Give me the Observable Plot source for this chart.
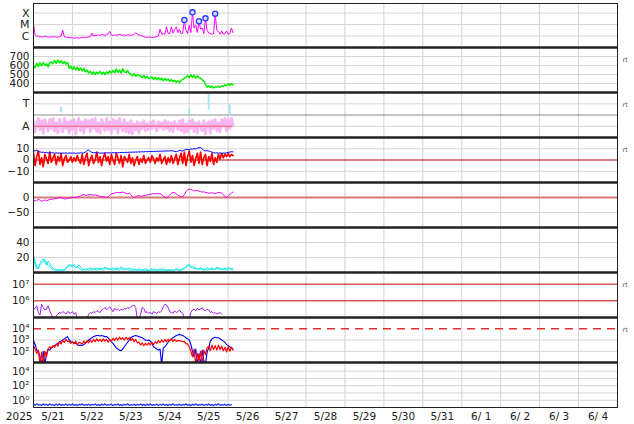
<!DOCTYPE html>
<html><head><meta charset="utf-8">
<script src="https://cdn.jsdelivr.net/npm/d3@7"></script>
<script src="https://cdn.jsdelivr.net/npm/@observablehq/plot@0.6"></script>
<style>
html,body{margin:0;padding:0;background:#fff;width:634px;height:424px;overflow:hidden;font-family:"DejaVu Sans",sans-serif;}
#chart{position:relative;width:634px;height:424px;}
#chart svg{position:absolute;left:0;overflow:visible;}
</style></head><body><div id="chart"></div>
<script>
// ---------- axis labels ----------
const dayLabels = ["5/21","5/22","5/23","5/24","5/25","5/26","5/27","5/28","5/29","5/30","5/31","6/ 1","6/ 2","6/ 3","6/ 4"];
const yearLabel = ["2025"];
const seriesStart = "2025-05-21T00:00:00Z"; // hourly samples from here

// Panel 1: X-ray flux (log10 W/m2)
const xrayTicks = [1e-6, 1e-5, 1e-4];
const xrayTickLabels = ["C", "M", "X"];
const xrayLog = [
 -5.0,-5.9,-6.05,-6.0,-6.1,-6.05,-6.1,-6.0,-6.05,-6.1,-6.1,-6.05,
 -6.1,-6.05,-6.1,-6.1,-6.05,-6.0,-5.5,-6.05,-6.1,-6.1,-6.15,-6.15,
 -6.15,-6.2,-6.15,-6.15,-6.2,-6.15,-6.15,-6.1,-6.15,-6.1,-6.1,-6.05,
 -5.75,-6.0,-5.95,-5.95,-5.9,-5.95,-5.85,-5.9,-5.95,-5.9,-5.8,-5.6,
 -5.9,-5.95,-5.9,-5.95,-5.9,-5.85,-5.9,-5.95,-5.9,-5.95,-5.9,-5.9,
 -5.95,-5.9,-5.85,-5.7,-5.85,-5.9,-5.95,-6.0,-6.05,-6.1,-6.1,-6.1,
 -6.1,-6.15,-6.1,-6.1,-6.05,-6.0,-5.4,-5.85,-5.8,-5.85,-5.2,-5.8,
 -5.8,-5.2,-5.75,-5.45,-5.2,-5.7,-5.4,-5.8,-5.75,-4.61,-5.5,-5.8,
 -5.05,-5.7,-3.94,-5.3,-5.05,-5.7,-4.72,-5.4,-5.3,-5.8,-4.46,-5.5,
 -5.75,-5.8,-5.85,-5.8,-4.05,-5.5,-5.6,-5.85,-5.55,-5.85,-5.8,-5.55,
 -5.85,-5.8,-5.3,-5.7];
const flareHours = [93, 98, 102, 106, 112];
const flareLog = [-4.61, -3.94, -4.72, -4.46, -4.05];

// Panel 2: solar wind speed (km/s)
const windTicks = [400, 500, 600, 700];
const windSpeed = [
 600,575,625,590,630,595,635,600,620,585,630,640,
 620,655,625,660,630,655,620,645,615,635,570,590,
 555,585,550,580,545,575,540,565,530,550,515,535,
 505,530,500,525,510,535,505,525,500,530,510,540,
 515,545,520,560,525,550,515,565,530,520,545,510,
 505,485,510,480,500,490,485,465,490,460,480,455,
 460,475,445,470,440,465,440,460,430,455,435,450,
 425,445,420,435,415,430,410,435,445,460,470,490,
 465,495,470,490,460,485,465,460,440,425,390,360,
 375,355,370,350,365,360,370,358,372,368,385,378,
 395,380,398,385];

// Panel 3: T / A class band
const classTicks = [0, 1];
const classLabels = ["A", "T"];
const classBand = [
 0.2,-0.25,0.1,0.35,-0.15,0.25,-0.3,0.3,0.05,-0.2,0.3,-0.1,
 0.35,-0.2,0.15,-0.3,0.3,0.0,-0.25,0.35,-0.1,0.2,-0.3,0.25,
 -0.15,0.3,-0.35,0.1,0.35,-0.2,0.2,-0.3,0.3,-0.05,0.25,-0.25,
 0.3,-0.1,0.35,-0.25,0.15,-0.3,0.3,0.05,-0.2,0.35,-0.15,0.2,
 -0.3,0.3,-0.1,0.25,-0.3,0.35,0.0,-0.2,0.3,-0.25,0.15,-0.3,
 0.25,-0.35,0.1,-0.15,0.2,-0.3,0.15,-0.1,0.25,-0.2,0.1,-0.15,
 0.2,-0.1,0.25,0.0,-0.2,0.2,-0.05,0.15,-0.15,0.25,-0.1,0.2,
 -0.2,0.15,-0.25,0.2,0.05,-0.15,0.25,-0.2,0.3,-0.3,0.1,-0.25,
 0.25,-0.1,0.3,-0.25,0.15,-0.3,0.2,0.0,-0.2,0.25,-0.35,0.1,
 0.2,-0.3,0.25,-0.1,0.3,-0.2,0.15,-0.25,0.3,0.0,0.35,-0.2,
 0.3,-0.1,0.35,0.05];
const cyanSpikeHours = [17, 96, 108, 121];
const cyanSpikeLo = [0.6, 0.5, 0.7, 0.45];
const cyanSpikeHi = [0.85, 0.75, 1.45, 0.95];

// Panel 4: IMF Bt (blue) and Bz (red), nT
const imfTicks = [-10, 0, 10];
const imfTickLabels = ["−10", "0", "10"];
const bt = [
 8.5,8,8.8,7.5,7.2,6.8,7,6.5,6.8,6.2,6.5,6.3,
 6.5,6,6.4,6.1,6.3,5.8,6.2,6,6.4,5.9,6.3,6.1,
 6,6.4,5.8,6.2,6,6.5,6.1,6.3,7,8.5,9,7.5,
 6.8,6.4,6.6,6.2,6.4,6,6.3,6.1,6.2,6.5,6.3,6.4,
 6.2,6.5,6.4,6.6,6.3,6.7,6.5,6.8,6.6,6.9,6.7,7,
 6.8,7.1,6.9,7.2,7,7.3,7.1,7.4,7.2,7.5,7.3,7.6,
 7.4,7.7,7.5,7.8,7.6,7.9,7.7,8,7.8,8.1,7.9,8.2,
 8,8.3,8.1,7.6,7.4,7.8,8.5,8.2,7.9,8.8,9.2,9.5,
 9,9.8,9.5,10.2,9.8,10.5,10.8,11,10,8.5,8,8.3,
 8,7.5,7,6.5,6.2,6.5,6,6.3,5.8,6.2,6,6.5,
 6.8,7,7.4,7.2];
const bz = [
 6,-5,3,8,-4,2,-6,5,1,-3,7,-2,
 2,5,-4,3,-1,6,-5,1,4,-2,0,3,
 -2,2,-1,4,0,-3,5,-4,2,6,-5,1,
 4,-3,0,7,-2,3,-5,2,6,-1,3,-4,
 5,0,-4,6,2,-3,4,-6,3,1,-2,5,
 -3,2,-5,0,3,-4,1,-2,4,-3,0,2,
 -2,4,1,-3,2,-1,5,-3,0,3,-4,2,
 -2,4,-3,1,5,-4,2,6,-3,7,-5,3,
 8,-2,4,-5,1,6,-3,7,-4,2,5,-5,
 3,-1,6,-4,2,-2,5,1,6,2,5,3,
 6,3,5,4];

// Panel 5: Dst (nT)
const dstTicks = [-50, 0];
const dstTickLabels = ["−50", "0"];
const dst = [
 -8,-12,-10,-6,-9,-13,-10,-8,-11,-9,-7,-6,
 -5,-4,-3,-2,-1,0,-2,-4,-5,-3,-2,-1,
 0,1,0,2,3,5,8,10,7,8,9,10,
 9,8,9,7,6,4,3,3,2,0,2,8,
 12,14,15,16,17,16,17,18,16,14,12,15,
 10,2,0,3,5,6,5,4,6,7,8,10,
 11,12,13,12,13,14,12,10,5,0,-1,3,
 8,14,17,16,12,8,5,3,2,10,20,25,
 28,27,25,22,23,24,21,20,18,19,17,16,
 14,15,16,14,12,15,17,16,15,10,2,0,
 5,10,15,18];

// Panel 6: two cyan series
const p6Ticks = [20, 40];
const cyanA = [
 22,15,8,5,12,16,18,14,10,15,12,8,
 6,5,4,3,4,3,4,3,5,7,9,8,
 10,9,6,8,10,7,5,4,5,4,5,6,
 5,4,5,6,5,4,5,6,7,5,6,4,
 5,6,5,4,6,5,7,6,5,4,5,6,
 5,4,5,3,4,5,4,3,4,5,4,3,
 4,5,4,5,3,4,5,4,5,4,3,4,
 3,4,3,4,5,4,3,4,5,6,8,10,
 9,7,6,5,6,4,5,6,5,4,5,6,
 5,4,6,5,4,6,5,6,5,4,6,5,
 6,5,4,5];
const cyanB = [
 18,10,5,8,10,12,15,17,13,9,8,6,
 4,3,2,3,2,3,2,4,6,9,11,10,
 8,11,9,7,6,4,3,4,3,5,3,4,
 3,5,4,3,4,6,4,3,5,6,4,5,
 4,3,4,6,4,3,5,4,3,5,4,3,
 3,2,3,4,2,3,2,4,3,2,3,2,
 2,3,2,3,2,3,2,3,2,3,2,3,
 2,3,2,3,4,3,2,3,4,5,7,8,
 11,9,8,7,5,6,4,5,4,3,4,3,
 4,5,4,3,5,7,6,4,3,5,4,3,
 4,6,5,3];

// Panel 7: electron flux (log10)
const p7Ticks = [1e6, 1e7];
const p7TickLabels = ["10⁶", "10⁷"];
const electronLog = [
 5.5,5.55,5.7,5.3,5.15,5.8,5.6,5.45,5.5,5.7,5.4,5.2,
 4.9,4.9,5.1,5.2,5.3,5.25,5.35,5.3,5.2,5.35,5.3,5.25,
 5.35,5.2,5.3,4.9,4.9,4.9,4.9,4.9,4.9,4.9,5.2,5.3,
 5.25,5.35,5.3,5.4,5.35,5.3,5.45,5.5,5.6,5.45,5.55,5.65,
 5.5,5.35,5.55,5.45,5.5,5.4,5.5,5.45,5.55,5.5,5.6,5.55,
 5.65,5.7,5.75,5.6,4.9,4.9,5.2,5.6,5.55,5.3,5.35,5.25,
 5.3,5.2,5.35,5.3,5.25,5.35,5.3,5.4,5.65,5.8,5.75,5.6,
 5.35,5.3,5.25,5.4,5.3,5.35,5.45,5.3,5.25,4.9,4.9,4.9,
 4.9,5.3,5.45,5.5,5.4,5.55,5.45,5.5,5.6,5.45,5.4,5.5,
 5.45,5.3,5.35,5.25,5.3,5.2,5.25,5.3,5.2,null,null,null,
 null,null,null,null];

// Panel 8: blue / red flux (log10)
const p8Ticks = [1e2, 1e3, 1e4];
const p8TickLabels = ["10²", "10³", "10⁴"];
const p8BlueLog = [
 2.95,2.6,2.1,2.0,1.5,0.8,2.0,0.8,1.8,2.2,2.1,2.3,
 2.4,2.5,2.6,2.7,2.8,2.9,3.0,3.1,3.2,3.3,3.0,2.85,
 2.8,2.75,2.7,2.6,2.5,2.55,2.5,2.6,2.7,2.85,3.0,3.1,
 3.2,3.3,3.35,3.4,3.4,3.35,3.4,3.35,3.3,3.3,3.2,3.0,
 2.85,2.7,2.5,2.3,2.2,2.1,2.05,2.2,2.4,2.6,2.8,3.0,
 3.2,3.3,3.35,3.4,3.35,3.3,3.25,3.2,3.1,3.0,2.95,3.0,
 2.9,2.7,2.4,2.3,2.2,2.1,2.2,0.8,2.3,2.4,2.6,2.8,
 3.0,3.1,3.2,3.3,3.4,3.45,3.5,3.45,3.4,3.3,3.2,3.1,
 3.0,2.6,2.0,1.5,2.2,0.8,1.8,0.8,2.1,1.2,0.8,1.9,
 2.3,2.9,3.1,3.2,3.25,3.2,3.2,3.1,3.0,2.9,2.8,2.6,
 2.5,2.4,2.3,2.2];
const p8RedLog = [
 2.5,2.2,1.8,2.1,0.8,1.9,0.8,2.0,1.5,2.2,2.4,2.3,
 2.5,2.35,2.65,2.45,2.85,2.65,2.95,2.8,3.05,2.85,2.9,2.7,
 2.85,2.65,2.9,2.55,2.8,2.75,2.65,2.9,2.7,2.95,2.75,3.0,
 2.8,3.05,2.85,3.1,2.9,3.05,2.85,3.1,2.9,3.05,2.8,3.05,
 2.9,3.15,2.95,3.2,3.0,3.25,3.05,3.2,3.0,3.25,3.05,3.2,
 2.95,3.15,2.85,3.05,2.75,2.8,2.55,2.75,2.5,2.7,2.55,2.75,
 2.55,2.8,2.6,2.85,2.7,2.95,2.75,3.0,2.8,3.05,2.85,3.05,
 2.9,3.1,2.85,3.05,2.9,2.95,2.95,2.9,2.85,2.85,2.65,2.65,
 2.4,2.0,1.5,2.2,0.8,1.8,1.2,2.0,0.8,2.1,1.7,2.3,
 2.45,2.05,2.55,2.15,2.5,2.1,2.55,2.15,2.45,2.05,2.35,1.95,
 2.4,2.0,2.35,2.1];
const p8Threshold = [1e4];

// Panel 9: low flux (log10)
const p9Ticks = [1e0, 1e2, 1e4];
const p9TickLabels = ["10⁰", "10²", "10⁴"];
const p9Grid = [1e0, 1e1, 1e2, 1e3, 1e4];
const p9BlueLog = [
 -0.55,-0.7,-0.5,-0.65,-0.6,-0.72,-0.5,-0.68,-0.58,-0.7,-0.52,-0.66,
 -0.6,-0.74,-0.55,-0.68,-0.5,-0.7,-0.6,-0.66,-0.54,-0.72,-0.58,-0.68,
 -0.52,-0.7,-0.6,-0.74,-0.56,-0.66,-0.5,-0.7,-0.62,-0.68,-0.55,-0.72,
 -0.58,-0.66,-0.52,-0.7,-0.6,-0.74,-0.55,-0.68,-0.5,-0.7,-0.6,-0.66,
 -0.54,-0.72,-0.58,-0.68,-0.52,-0.7,-0.6,-0.74,-0.56,-0.66,-0.5,-0.7,
 -0.62,-0.68,-0.55,-0.72,-0.58,-0.66,-0.52,-0.7,-0.6,-0.74,-0.55,-0.68,
 -0.5,-0.7,-0.6,-0.66,-0.54,-0.72,-0.58,-0.68,-0.52,-0.7,-0.6,-0.74,
 -0.56,-0.66,-0.5,-0.7,-0.62,-0.68,-0.55,-0.72,-0.58,-0.66,-0.52,-0.7,
 -0.6,-0.74,-0.55,-0.68,-0.5,-0.7,-0.6,-0.66,-0.54,-0.72,-0.58,-0.68,
 -0.52,-0.7,-0.6,-0.74,-0.56,-0.66,-0.5,-0.7,-0.62,-0.68,-0.55,-0.72,
 -0.58,-0.66,-0.6,null];

// ---------- build ----------
const HOUR = 3600e3;
const T0 = new Date(seriesStart).getTime();
const hourly = (vals, f = v => v) => vals.map((v, i) => ({t: new Date(T0 + i * HOUR), v: v == null ? NaN : f(v)}));
const pow10 = v => Math.pow(10, v);
const dayDates = dayLabels.map(s => { const [m, d] = s.split("/").map(p => +p.trim()); return new Date(Date.UTC(2025, m - 1, d)); });
const xEnd = new Date(dayDates[dayDates.length - 1].getTime() + 24 * HOUR);
const dayBounds = dayDates.slice(1);
const noons = dayDates.map(d => new Date(d.getTime() + 12 * HOUR));
const labelByTime = new Map(noons.map((d, i) => [d.getTime(), dayLabels[i]]));
const dataEnd = new Date(T0 + (xrayLog.length - 1) * HOUR);

const chart = document.getElementById("chart");
const W = 634, ML = 33, MR = 17;
const FONT = "DejaVu Sans, sans-serif";
const GRID = "#d4d4d4";

function panel({top, h = 45, mt = 0, mb = 0, y, ticks, labels, grid = [], marks = [], rt = false, sep = true, extra = [], fs = 10.5}) {
  const fmt = labels ? (d => labels[ticks.indexOf(d)]) : (d => String(d));
  const svg = Plot.plot({
    width: W, height: h + mt + mb,
    marginLeft: ML, marginRight: MR, marginTop: mt, marginBottom: mb,
    x: {type: "utc", domain: [new Date(T0), xEnd], axis: null, label: null},
    y: {...y, axis: null, label: null},
    style: {overflow: "visible", background: "transparent", fontFamily: FONT, fontSize: "11px", color: "#222"},
    marks: [
      Plot.ruleX(dayBounds, {stroke: GRID, strokeWidth: 1}),
      Plot.ruleY(grid, {stroke: GRID, strokeWidth: 1}),
      ...marks,
      Plot.frame({stroke: "#222", strokeWidth: 1}),
      sep ? Plot.ruleY([y.domain[1]], {stroke: "#222", strokeWidth: 2.6}) : null,
      Plot.axisY({ticks, label: null, tickSize: 0, tickPadding: 4, tickFormat: fmt, fontSize: fs, fill: "#222"}),
      rt ? Plot.text(["rt"], {frameAnchor: "top-right", dx: 5, dy: 10, textAnchor: "start", fontSize: 6.5, fill: "#555"}) : null,
      ...extra
    ]
  });
  svg.style.top = (top - mt) + "px";
  chart.append(svg);
}

// Panel 1
panel({top: 3, h: 44, mt: 3, sep: false, fs: 11,
  y: {type: "log", domain: [1e-7, 6.8e-4]}, ticks: xrayTicks, labels: xrayTickLabels, grid: xrayTicks,
  marks: [
    Plot.line(hourly(xrayLog, pow10), {x: "t", y: "v", stroke: "#ff00ff", strokeWidth: 1, clip: true}),
    Plot.dot(flareHours.map((h, i) => ({t: new Date(T0 + h * HOUR), v: pow10(flareLog[i])})),
      {x: "t", y: "v", r: 2.6, stroke: "#2a3cff", fill: "#d4d8ff", strokeWidth: 1.3})
  ]});

// Panel 2
panel({top: 47, y: {type: "linear", domain: [300, 800]}, ticks: windTicks, grid: windTicks, rt: true, fs: 10.5,
  marks: [Plot.line(hourly(windSpeed), {x: "t", y: "v", stroke: "#00ee00", strokeWidth: 1.5, clip: true})]});

// Panel 3
panel({top: 92, y: {type: "linear", domain: [-0.5, 1.5]}, ticks: classTicks, labels: classLabels, grid: [0, 1], rt: true, fs: 11,
  marks: [
    Plot.ruleY([0.5], {stroke: "#8c8c8c", strokeWidth: 1.2}),
    Plot.ruleX(cyanSpikeHours.map((h, i) => ({t: new Date(T0 + h * HOUR), lo: cyanSpikeLo[i], hi: cyanSpikeHi[i]})),
      {x: "t", y1: "lo", y2: "hi", stroke: "#a8e6f6", strokeWidth: 2, clip: true}),
    Plot.line(hourly(classBand), {x: "t", y: "v", stroke: "#f7b6f2", strokeWidth: 2.8, clip: true}),
    Plot.ruleY([0], {x1: new Date(T0), x2: dataEnd, stroke: "#f05a6a", strokeWidth: 1})
  ]});

// Panel 4
panel({top: 137, y: {type: "linear", domain: [-20, 20]}, ticks: imfTicks, labels: imfTickLabels, grid: [-10, 10], rt: true,
  marks: [
    Plot.ruleY([0], {stroke: "#b00000", strokeWidth: 1}),
    Plot.line(hourly(bz), {x: "t", y: "v", stroke: "#ff0000", strokeWidth: 1.7, clip: true}),
    Plot.line(hourly(bt), {x: "t", y: "v", stroke: "#0000ff", strokeWidth: 1, clip: true})
  ]});

// Panel 5
panel({top: 182, y: {type: "linear", domain: [-100, 50]}, ticks: dstTicks, labels: dstTickLabels, grid: [-50],
  marks: [
    Plot.ruleY([0], {stroke: "#d77a7a", strokeWidth: 2}),
    Plot.line(hourly(dst), {x: "t", y: "v", stroke: "#ee00ee", strokeWidth: 1, clip: true})
  ]});

// Panel 6
panel({top: 227, y: {type: "linear", domain: [0, 60]}, ticks: p6Ticks, grid: p6Ticks,
  marks: [
    Plot.line(hourly(cyanB), {x: "t", y: "v", stroke: "#22eeee", strokeWidth: 1, clip: true}),
    Plot.line(hourly(cyanA), {x: "t", y: "v", stroke: "#00e5e5", strokeWidth: 1, clip: true})
  ]});

// Panel 7
panel({top: 272, y: {type: "log", domain: [1e5, Math.pow(10, 7.7)]}, ticks: p7Ticks, labels: p7TickLabels, rt: true,
  marks: [
    Plot.ruleY(p7Ticks, {stroke: "#cc0000", strokeWidth: 1}),
    Plot.line(hourly(electronLog, pow10), {x: "t", y: "v", stroke: "#a020f0", strokeWidth: 1, clip: true})
  ]});

// Panel 8
panel({top: 317, y: {type: "log", domain: [10, 1e5]}, ticks: p8Ticks, labels: p8TickLabels, grid: [1e2, 1e3], rt: true,
  marks: [
    Plot.ruleY(p8Threshold, {stroke: "#e03030", strokeWidth: 1.5, strokeDasharray: "8,6"}),
    Plot.line(hourly(p8BlueLog, pow10), {x: "t", y: "v", stroke: "#0000ff", strokeWidth: 1.1, clip: true}),
    Plot.line(hourly(p8RedLog, pow10), {x: "t", y: "v", stroke: "#ff0000", strokeWidth: 1.2, clip: true})
  ]});

// Panel 9 (with date axis)
panel({top: 362, mb: 17, y: {type: "log", domain: [0.1, Math.pow(10, 5.2)]}, ticks: p9Ticks, labels: p9TickLabels, grid: p9Grid,
  marks: [
    Plot.line(hourly(p9BlueLog, pow10), {x: "t", y: "v", stroke: "#2233ff", strokeWidth: 1.3, clip: true})
  ],
  extra: [
    Plot.axisX({ticks: noons, label: null, tickSize: 0, tickPadding: 5, tickFormat: d => labelByTime.get(d.getTime()), fontSize: 10.5, fill: "#222"}),
    Plot.text(yearLabel, {frameAnchor: "bottom-left", dx: -1, dy: 5, textAnchor: "end", lineAnchor: "top", fontSize: 10.5, fill: "#222"})
  ]});
</script>
</body></html>
